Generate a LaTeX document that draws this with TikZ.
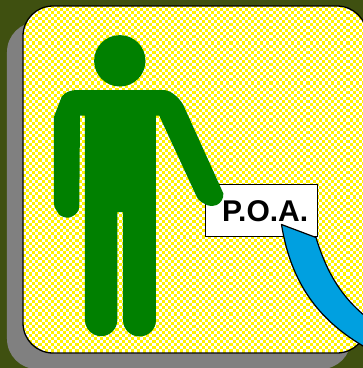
\documentclass[tikz,border=0pt]{standalone}
\usepackage{fontspec}
\setmainfont{Liberation Sans}
\usepackage{xcolor}
\definecolor{backolive}{HTML}{3F5010}
\definecolor{figgreen}{HTML}{008000}
\definecolor{tailblue}{HTML}{00A0E0}
\tikzset{
  card/.style    = {rounded corners=30pt},
  figure/.style  = {fill=figgreen, draw=none},
  label/.style   = {draw=black, fill=white, line width=1pt, minimum width=112.5pt,
                    minimum height=51.5pt, inner sep=0pt, font=\fontsize{30}{32}\selectfont\bfseries},
  tail/.style    = {fill=tailblue, draw=black, line width=1.2pt, line join=round},
}
\begin{document}
\begin{tikzpicture}[x=1pt,y=-1pt]
\useasboundingbox (0,0) rectangle (363,368);
\fill[backolive] (0,0) rectangle (363,368);
\fill[gray,card] (7,22) rectangle (351,369);
\fill[white,card] (23,6) rectangle (367,353);
\begin{scope}
\clip[card] (23,6) rectangle (367,353);
\foreach \r [evaluate=\r as \ph using {mod(\r,2)*3.08}] in {0,...,114}
  \draw[yellow,line width=3.08pt,dash pattern=on 3.08pt off 3.08pt,dash phase=\ph pt]
    (20,{6+\r*3.08}) -- (370,{6+\r*3.08});
\end{scope}
\draw[black,line width=1.3pt,card] (23,6) rectangle (367,353);
\fill[figure] (119.8,60.8) circle (25.7);
\node[label] (poa) at (261.6,210.7) {\raisebox{-2pt}{\hspace{7pt}P.O.A.}};
\fill[figure] (77,90) -- (163,90) .. controls (170,90) and (178,96) .. (183.3,105)
  -- (223.3,193.3) .. controls (224,198) and (221,203) .. (216.7,205)
  .. controls (212,206.5) and (208,206) .. (205,204)
  .. controls (201,202) and (198,200) .. (196.7,196.7)
  -- (159.3,115.7) -- (156,115.7) -- (156,320) arc (0:180:16.5) -- (123,212)
  -- (117.3,212) -- (117.3,320) arc (0:180:16.15) -- (85,115.7) -- (80,115.7)
  -- (79.3,205) .. controls (79,210) and (78,212) .. (76.7,213)
  .. controls (74,216) and (70,218) .. (66.7,217.7)
  .. controls (62,217) and (59,215) .. (58,213)
  .. controls (56,210) and (54,207) .. (54,203)
  -- (54,116.7) -- (61.7,96.7) .. controls (65,92) and (71,90) .. (77,90) -- cycle;
\draw[tail] (281.5,224.5) -- (316,237.5)
  .. controls (326,270) and (340,297) .. (370,320)
  -- (370,350)
  .. controls (325,325) and (292,290) .. (281.5,224.5) -- cycle;
\end{tikzpicture}
\end{document}
